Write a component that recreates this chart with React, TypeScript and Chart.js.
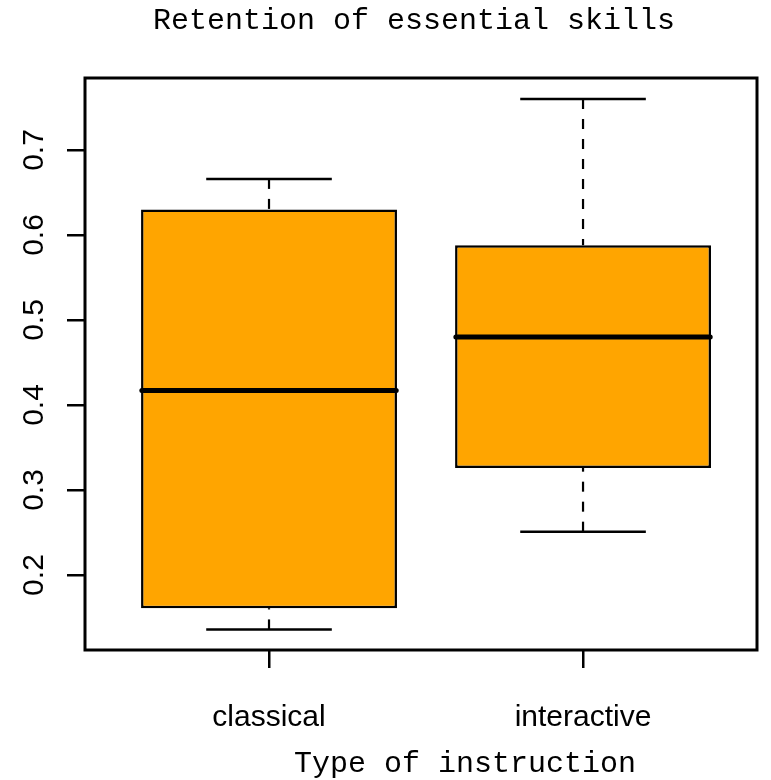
import React, { useEffect, useRef } from "react";
import { Chart, registerables } from "chart.js";

Chart.register(...registerables);

// ---- data ----
const categories = ["classical", "interactive"];
const lowerWhisker = [0.136, 0.251];
const q1Values = [0.161, 0.326];
const medianValues = [0.417, 0.48];
const q3Values = [0.63, 0.588];
const upperWhisker = [0.666, 0.76];
const yTickValues = [0.2, 0.3, 0.4, 0.5, 0.6, 0.7];
const yTickLabels = ["0.2", "0.3", "0.4", "0.5", "0.6", "0.7"];
const chartTitle = "Retention of essential skills";
const xAxisTitle = "Type of instruction";

// ---- styling ----
const BOX_FILL = "#FFA500";
const CAP_HALF = 0.2;
const MEDIAN_HALF = 0.405;
const MONO = '"Liberation Mono", "Courier New", monospace';
const SANS = '"Liberation Sans", Arial, sans-serif';

export default function App() {
  const canvasRef = useRef<HTMLCanvasElement | null>(null);

  useEffect(() => {
    document.body.style.margin = "0";
    const canvas = canvasRef.current;
    if (!canvas) return;

    const extras = {
      id: "boxExtras",
      beforeDatasetsDraw(chart: any) {
        const { ctx, scales } = chart;
        const x = scales.x;
        const y = scales.y;
        ctx.save();
        ctx.strokeStyle = "#000";
        categories.forEach((_, i) => {
          const pos = i + 1;
          const cx = x.getPixelForValue(pos);
          ctx.lineWidth = 2.2;
          ctx.lineCap = "butt";
          ctx.setLineDash([10, 10]);
          ctx.beginPath();
          ctx.moveTo(cx, y.getPixelForValue(upperWhisker[i]));
          ctx.lineTo(cx, y.getPixelForValue(q3Values[i]));
          ctx.stroke();
          ctx.beginPath();
          ctx.moveTo(cx, y.getPixelForValue(lowerWhisker[i]));
          ctx.lineTo(cx, y.getPixelForValue(q1Values[i]));
          ctx.stroke();
          ctx.setLineDash([]);
          ctx.lineWidth = 2.5;
          const l = x.getPixelForValue(pos - CAP_HALF);
          const r = x.getPixelForValue(pos + CAP_HALF);
          [upperWhisker[i], lowerWhisker[i]].forEach((v) => {
            const py = y.getPixelForValue(v);
            ctx.beginPath();
            ctx.moveTo(l, py);
            ctx.lineTo(r, py);
            ctx.stroke();
          });
        });
        ctx.restore();
      },
      afterDatasetsDraw(chart: any) {
        const { ctx, scales } = chart;
        const x = scales.x;
        const y = scales.y;
        ctx.save();
        ctx.strokeStyle = "#000";
        ctx.lineWidth = 5;
        ctx.lineCap = "round";
        categories.forEach((_, i) => {
          const pos = i + 1;
          const py = y.getPixelForValue(medianValues[i]);
          ctx.beginPath();
          ctx.moveTo(x.getPixelForValue(pos - MEDIAN_HALF), py);
          ctx.lineTo(x.getPixelForValue(pos + MEDIAN_HALF), py);
          ctx.stroke();
        });
        ctx.restore();
      },
      afterDraw(chart: any) {
        const { ctx, chartArea, scales } = chart;
        const y = scales.y;
        ctx.save();
        ctx.strokeStyle = "#000";
        ctx.lineWidth = 3;
        ctx.strokeRect(
          chartArea.left,
          chartArea.top,
          chartArea.right - chartArea.left,
          chartArea.bottom - chartArea.top
        );
        ctx.fillStyle = "#000";
        ctx.font = `30px ${SANS}`;
        ctx.textAlign = "center";
        ctx.textBaseline = "alphabetic";
        yTickValues.forEach((v, i) => {
          const py = y.getPixelForValue(v);
          ctx.save();
          ctx.translate(43, py);
          ctx.rotate(-Math.PI / 2);
          ctx.fillText(yTickLabels[i], 0, 0);
          ctx.restore();
        });
        ctx.font = `30px ${MONO}`;
        ctx.textAlign = "center";
        ctx.fillText(chartTitle, 414, 29);
        ctx.fillText(xAxisTitle, 465, 772);
        ctx.restore();
      },
    };

    const chart = new Chart(canvas, {
      type: "bar",
      data: {
        datasets: [
          {
            label: "box",
            data: categories.map((_, i) => ({
              x: i + 1,
              y: [q1Values[i], q3Values[i]],
            })) as any,
            backgroundColor: BOX_FILL,
            borderColor: "#000",
            borderWidth: 2.5,
            borderSkipped: false,
            categoryPercentage: 1,
            barPercentage: 0.815,
          },
        ],
      },
      options: {
        animation: false,
        responsive: true,
        maintainAspectRatio: false,
        layout: { padding: { top: 78, right: 14, left: 0, bottom: 0 } },
        plugins: {
          legend: { display: false },
          tooltip: { enabled: false },
          title: { display: false },
        },
        scales: {
          x: {
            type: "linear",
            offset: false,
            min: 0.414,
            max: 2.554,
            afterBuildTicks: (axis: any) => {
              axis.ticks = categories.map((_, i) => ({ value: i + 1 }));
            },
            afterFit: (axis: any) => {
              axis.height = 130;
            },
            border: { display: false },
            grid: {
              display: true,
              offset: false,
              drawOnChartArea: false,
              drawTicks: true,
              tickLength: 18,
              lineWidth: 2.5,
              color: "#000",
            },
            ticks: {
              autoSkip: false,
              maxRotation: 0,
              minRotation: 0,
              padding: 32,
              color: "#000",
              font: { family: SANS, size: 30 },
              callback: (value: any) => categories[Number(value) - 1] ?? "",
            },
          },
          y: {
            type: "linear",
            min: 0.1118,
            max: 0.7847,
            afterBuildTicks: (axis: any) => {
              axis.ticks = yTickValues.map((v) => ({ value: v }));
            },
            afterFit: (axis: any) => {
              axis.width = 85;
            },
            border: { display: false },
            grid: {
              display: true,
              drawOnChartArea: false,
              drawTicks: true,
              tickLength: 18,
              lineWidth: 2.5,
              color: "#000",
            },
            ticks: { display: false },
          },
        },
      },
      plugins: [extras],
    });

    return () => chart.destroy();
  }, []);

  return (
    <div style={{ position: "absolute", left: 0, top: 0, width: 771, height: 780, background: "#fff" }}>
      <canvas ref={canvasRef} />
    </div>
  );
}
